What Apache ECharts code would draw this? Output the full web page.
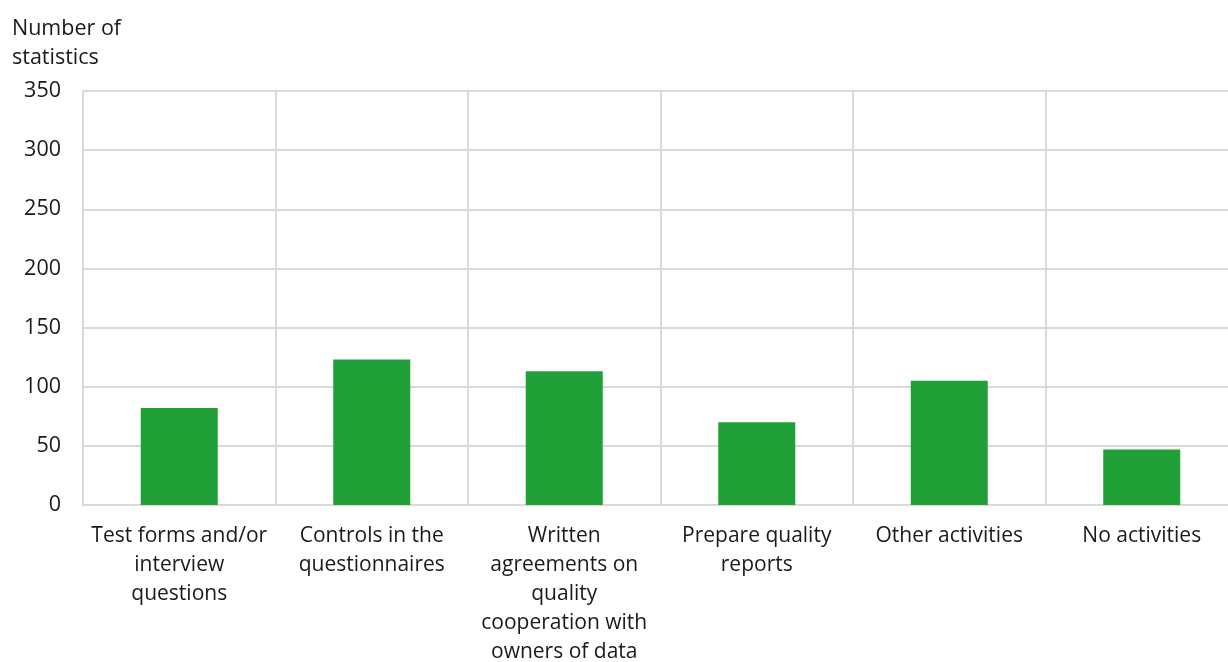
<!DOCTYPE html>
<html>
<head>
<meta charset="utf-8">
<script src="https://cdn.jsdelivr.net/npm/echarts@6/dist/echarts.min.js"></script>
<style>
  html, body { margin: 0; padding: 0; background: #fff; }
  #chart { width: 1228px; height: 662px; }
</style>
</head>
<body>
<div id="chart"></div>
<script>
// Quality activities carried out, by number of statistics
const categories = [
  'Test forms and/or\ninterview\nquestions',
  'Controls in the\nquestionnaires',
  'Written\nagreements on\nquality\ncooperation with\nowners of data',
  'Prepare quality\nreports',
  'Other activities',
  'No activities'
];
const values = [82, 123, 113, 70, 105, 47];
const yTitle = 'Number of\nstatistics';

const FONT = '"Open Sans", "Noto Sans", sans-serif';
const TEXT = '#1a1a1a';
const GRID = '#d9d9d9';

const chart = echarts.init(document.getElementById('chart'), null, { renderer: 'canvas' });
chart.setOption({
  animation: false,
  backgroundColor: '#ffffff',
  title: {
    text: yTitle,
    left: 12,
    top: 14,
    padding: 0,
    textStyle: { fontFamily: FONT, fontSize: 21.5, fontWeight: 'normal', color: TEXT, lineHeight: 29 }
  },
  grid: { left: 83, top: 91, width: 1155, height: 414, containLabel: false, outerBoundsMode: 'none' },
  xAxis: {
    type: 'category',
    data: categories,
    boundaryGap: true,
    axisLine: { show: true, lineStyle: { color: GRID, width: 2 } },
    axisTick: { show: false },
    splitLine: { show: true, lineStyle: { color: GRID, width: 2 } },
    axisLabel: {
      interval: 0,
      margin: 17,
      fontFamily: FONT,
      fontSize: 21,
      lineHeight: 29,
      color: TEXT,
      align: 'center',
      verticalAlign: 'top'
    }
  },
  yAxis: {
    type: 'value',
    min: 0,
    max: 350,
    interval: 50,
    axisLine: { show: true, lineStyle: { color: GRID, width: 2 } },
    axisTick: { show: false },
    splitLine: { show: true, lineStyle: { color: GRID, width: 2 } },
    axisLabel: { margin: 22, fontFamily: FONT, fontSize: 21.5, color: TEXT, padding: [4, 0, 0, 0] }
  },
  series: [{
    type: 'bar',
    data: values,
    barWidth: 77,
    itemStyle: { color: '#21a038' }
  }]
});
</script>
</body>
</html>
